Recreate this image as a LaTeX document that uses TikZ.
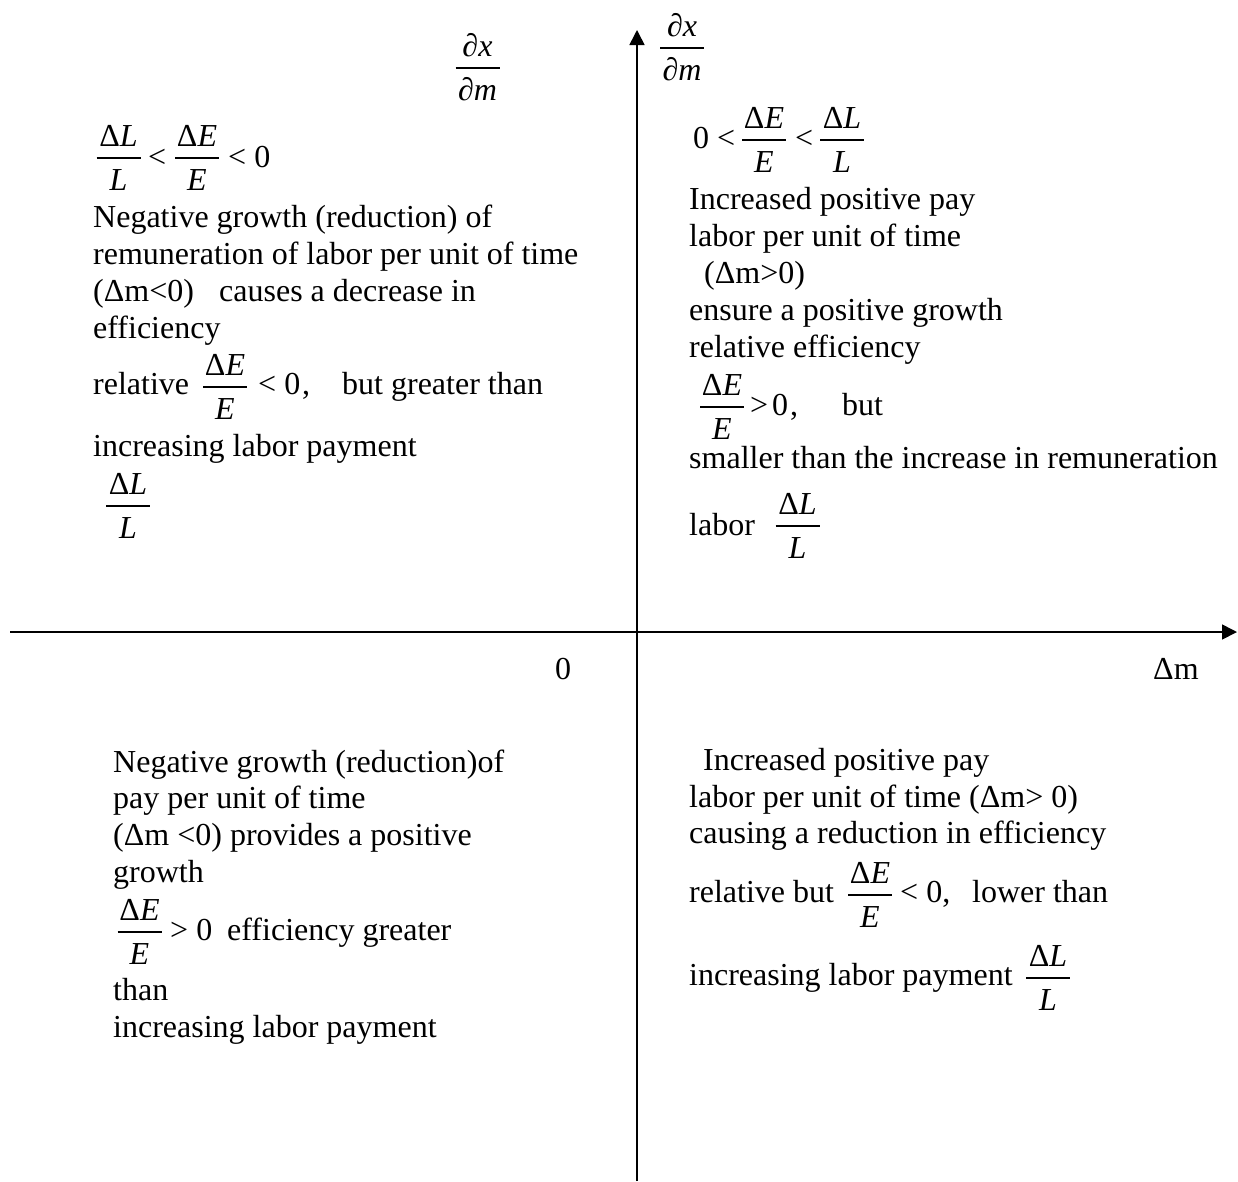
\documentclass[tikz,border=0pt]{standalone}
\usepackage{fontspec}
\setmainfont{Liberation Serif}
\usetikzlibrary{arrows.meta}
\newcommand\fr[2]{%
  \makebox[44pt]{%
    \rlap{\raisebox{21pt}{\makebox[44pt]{#1}}}%
    \rlap{\raisebox{-23pt}{\makebox[44pt]{#2}}}%
    \rule[8.4pt]{44pt}{1.2pt}}}
\tikzset{
  txt/.style={anchor=base west, inner sep=0pt, font=\fontsize{32pt}{37.5pt}\selectfont},
  frac/.style={anchor=base, inner sep=0pt, font=\fontsize{32pt}{37.5pt}\selectfont},
  axis/.style={line width=1.6pt, -{Triangle[length=15pt,width=15pt]}}
}
\begin{document}
\begin{tikzpicture}[x=1pt,y=-1pt]
\useasboundingbox (0,0) rectangle (1238,1181);
% axes
\coordinate (xs) at (10,632);
\coordinate (xe) at (1237,632);
\coordinate (ys) at (637,1181);
\coordinate (ye) at (637,30);
\draw[axis] (xs) -- (xe);
\draw[axis] (ys) -- (ye);
\node[txt] (zero) at (555,679) {0};
\node[txt] (dm) at (1153,679) {Δm};
% fraction labels of the vertical axis
\node[frac] (f5) at (477.5,77) {\fr{\textit{∂x}}{\textit{∂m}}};
\node[frac] (f6) at (682,57) {\fr{\textit{∂x}}{\textit{∂m}}};
% top-left quadrant
\node[frac] (f1) at (118.5,167) {\fr{Δ\textit{L}}{\textit{L}}};
\node[txt] (tl0a) at (148,167) {<};
\node[frac] (f2) at (197,167) {\fr{Δ\textit{E}}{\textit{E}}};
\node[txt] (tl0b) at (228,167) {< 0};
\node[txt] (tl1) at (93,227) {Negative growth (reduction) of};
\node[txt] (tl2) at (93,264) {remuneration of labor per unit of time};
\node[txt] (tl3) at (93,301) {(Δm<0)};
\node[txt] (tl3b) at (219,301) {causes a decrease in};
\node[txt] (tl4) at (93,338) {efficiency};
\node[txt] (tl5) at (93,394) {relative};
\node[frac] (f3) at (225,396) {\fr{Δ\textit{E}}{\textit{E}}};
\node[txt] (tl5b) at (258,394) {< 0};
\node[txt] (tl5c) at (302,394) {,};
\node[txt] (tl5d) at (342,394) {but greater than};
\node[txt] (tl6) at (93,456) {increasing labor payment};
\node[frac] (f4) at (128,515) {\fr{Δ\textit{L}}{\textit{L}}};
% top-right quadrant
\node[txt] (tr0a) at (693,148) {0 <};
\node[frac] (f7) at (764,149) {\fr{Δ\textit{E}}{\textit{E}}};
\node[txt] (tr0b) at (795,148) {<};
\node[frac] (f8) at (842,149) {\fr{Δ\textit{L}}{\textit{L}}};
\node[txt] (tr1) at (689,209) {Increased positive pay};
\node[txt] (tr2) at (689,246) {labor per unit of time};
\node[txt] (tr3) at (704,283) {(Δm>0)};
\node[txt] (tr4) at (689,320) {ensure a positive growth};
\node[txt] (tr5) at (689,357) {relative efficiency};
\node[frac] (f9) at (722,416) {\fr{Δ\textit{E}}{\textit{E}}};
\node[txt] (tr6a) at (750,415) {>};
\node[txt] (tr6z) at (772,415) {0};
\node[txt] (tr6b) at (790,415) {,};
\node[txt] (tr6c) at (842,415) {but};
\node[txt] (tr7) at (689,468) {smaller than the increase in remuneration};
\node[txt] (tr8) at (689,535) {labor};
\node[frac] (f10) at (797.5,535) {\fr{Δ\textit{L}}{\textit{L}}};
% bottom-left quadrant
\node[txt] (bl1) at (113,772) {Negative growth (reduction)of};
\node[txt] (bl2) at (113,808) {pay per unit of time};
\node[txt] (bl3) at (113,845) {(Δm <0) provides a positive};
\node[txt] (bl4) at (113,882) {growth};
\node[frac] (f11) at (139.5,941) {\fr{Δ\textit{E}}{\textit{E}}};
\node[txt] (bl5a) at (170,940) {> 0};
\node[txt] (bl5b) at (227,940) {efficiency greater};
\node[txt] (bl6) at (113,1000) {than};
\node[txt] (bl7) at (113,1037) {increasing labor payment};
% bottom-right quadrant
\node[txt] (br1) at (703,770) {Increased positive pay};
\node[txt] (br2) at (689,807) {labor per unit of time (Δm> 0)};
\node[txt] (br3) at (689,843) {causing a reduction in efficiency};
\node[txt] (br4) at (689,902) {relative but};
\node[frac] (f12) at (870,904) {\fr{Δ\textit{E}}{\textit{E}}};
\node[txt] (br4b) at (900,902) {< 0,};
\node[txt] (br4c) at (972,902) {lower than};
\node[txt] (br5) at (689,985) {increasing labor payment};
\node[frac] (f13) at (1048,987) {\fr{Δ\textit{L}}{\textit{L}}};
\end{tikzpicture}
\end{document}
